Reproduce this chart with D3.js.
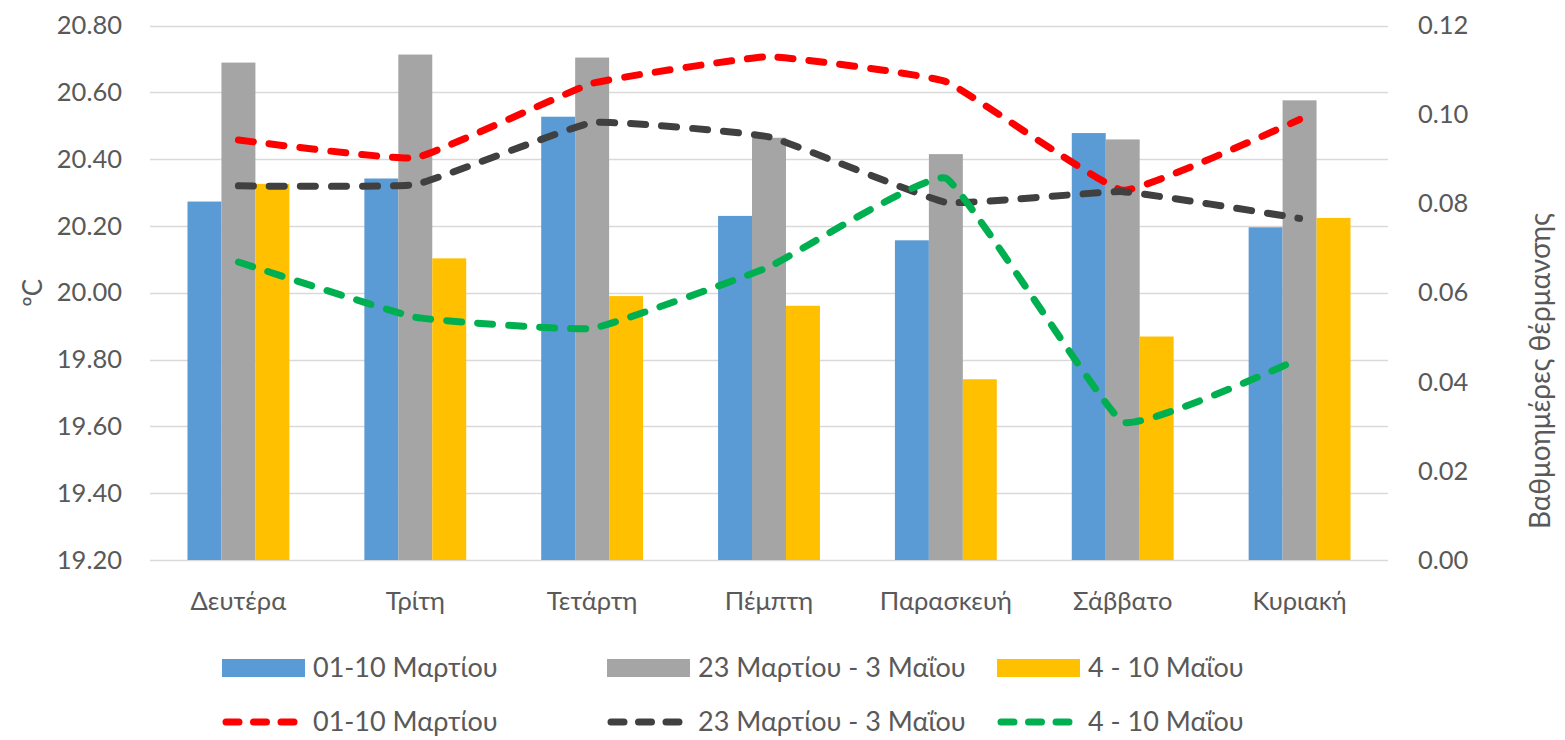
<!DOCTYPE html>
<html><head><meta charset="utf-8">
<script src="https://cdn.jsdelivr.net/npm/d3@7"></script>
<style>body{margin:0;background:#fff;} text{font-family:Lato,"Open Sans",sans-serif;fill:#595959;}</style>
</head><body><svg id="c" width="1565" height="740"></svg>
<script>
const days = ["Δευτέρα","Τρίτη","Τετάρτη","Πέμπτη","Παρασκευή","Σάββατο","Κυριακή"];
const barNames = ["01-10 Μαρτίου","23 Μαρτίου - 3 Μαΐου","4 - 10 Μαΐου"];
const barMarch = [20.273,20.342,20.527,20.230,20.157,20.478,20.196];
const barApril = [20.689,20.713,20.704,20.464,20.415,20.459,20.576];
const barMay   = [20.326,20.103,19.990,19.961,19.741,19.869,20.224];
const lineMarch = [0.0943,0.0903,0.1070,0.1130,0.1074,0.0830,0.0989];
const lineApril = [0.0840,0.0843,0.0982,0.0950,0.0803,0.0827,0.0767];
const lineMay   = [0.0669,0.0545,0.0520,0.0658,0.0857,0.0310,0.0452];
const leftTicks = [19.2,19.4,19.6,19.8,20.0,20.2,20.4,20.6,20.8];
const rightTicks = [0,0.02,0.04,0.06,0.08,0.10,0.12];
const leftTitle = "ºC";
const rightTitle = "Βαθμοημέρες θέρμανσης";

const barColors = ["#5B9BD5","#A5A5A5","#FFC000"];
const lineColors = ["#FF0000","#404040","#00B050"];
const barSeries = [barMarch,barApril,barMay];
const lineSeries = [lineMarch,lineApril,lineMay];

const svg = d3.select("#c");
const L=150,R=1388,T=25.5,B=560;
const x0 = d3.scaleBand().domain(days).range([L,R]).paddingInner(0.424).paddingOuter(0.212);
const x1 = d3.scaleBand().domain([0,1,2]).range([0,x0.bandwidth()]);
const yL = d3.scaleLinear().domain([19.2,20.8]).range([B,T]);
const yR = d3.scaleLinear().domain([0,0.12]).range([B,T]);

// gridlines
svg.append("g").selectAll("line").data(leftTicks).join("line")
  .attr("x1",L).attr("x2",R).attr("y1",d=>Math.round(yL(d))+0.5).attr("y2",d=>Math.round(yL(d))+0.5)
  .attr("stroke","#D9D9D9").attr("stroke-width",1.3);

// axes
const fs = 25.5;
const axL = svg.append("g").attr("transform",`translate(${L},0)`)
  .call(d3.axisLeft(yL).tickValues(leftTicks).tickFormat(d3.format(".2f")).tickSize(0).tickPadding(28));
axL.select(".domain").remove();
axL.selectAll("text").style("font-size",fs+"px").attr("fill","#595959");
const axR = svg.append("g").attr("transform",`translate(${R},0)`)
  .call(d3.axisRight(yR).tickValues(rightTicks).tickFormat(d3.format(".2f")).tickSize(0).tickPadding(30));
axR.select(".domain").remove();
axR.selectAll("text").style("font-size",fs+"px").attr("fill","#595959");
const axB = svg.append("g").attr("transform",`translate(0,${B})`)
  .call(d3.axisBottom(x0).tickSize(0).tickPadding(32));
axB.select(".domain").remove();
axB.selectAll("text").style("font-size",fs+"px").attr("fill","#595959");

// bars
barSeries.forEach((s,i)=>{
  svg.append("g").selectAll("rect").data(s).join("rect")
    .attr("x",(d,j)=>x0(days[j])+x1(i)).attr("width",x1.bandwidth())
    .attr("y",d=>yL(d)).attr("height",d=>B-yL(d)).attr("fill",barColors[i]);
});

// lines
const line = d3.line().x((d,j)=>x0(days[j])+x0.bandwidth()/2).y(d=>yR(d)).curve(d3.curveCardinal.tension(0.7));
lineSeries.forEach((s,i)=>{
  svg.append("path").datum(s).attr("d",line).attr("fill","none")
    .attr("stroke",lineColors[i]).attr("stroke-width",7)
    .attr("stroke-dasharray","15 16").attr("stroke-linecap","round");
});

// titles
svg.append("text").attr("transform",`translate(42,${(T+B)/2}) rotate(-90)`)
  .attr("text-anchor","middle").style("font-size","26px").text(leftTitle);
svg.append("text").attr("transform",`translate(1550,${371}) rotate(-90)`)
  .attr("text-anchor","middle").style("font-size","28px").text(rightTitle);

// legend
const legX = [222,607,997], swW = 83;
barNames.forEach((n,i)=>{
  svg.append("rect").attr("x",legX[i]).attr("y",659).attr("width",swW).attr("height",18).attr("fill",barColors[i]);
  svg.append("text").attr("x",legX[i]+swW+8).attr("y",668).attr("dy","0.35em").style("font-size","27px").text(n);
  svg.append("line").attr("x1",legX[i]+4).attr("x2",legX[i]+swW-4).attr("y1",722).attr("y2",722)
    .attr("stroke",lineColors[i]).attr("stroke-width",7).attr("stroke-linecap","round").attr("stroke-dasharray","13 14.5");
  svg.append("text").attr("x",legX[i]+swW+8).attr("y",722).attr("dy","0.35em").style("font-size","27px").text(n);
});
</script></body></html>
